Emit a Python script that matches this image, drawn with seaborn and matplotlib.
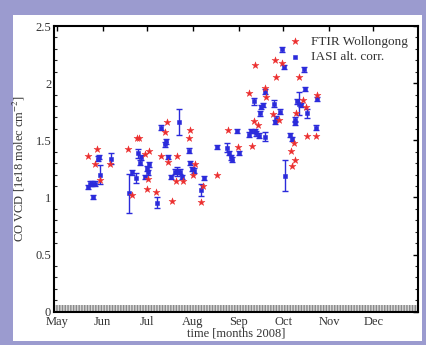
import numpy as np
import pandas as pd
import matplotlib
matplotlib.use("Agg")
import matplotlib.pyplot as plt
from matplotlib.patches import Rectangle
from matplotlib.ticker import MultipleLocator
import seaborn as sns

# ---- data (day of year 2008, CO VCD in 1e18 molec cm^-2) ----
ftir_doy = [143.3, 149.4, 147.4, 151.2, 158.0, 170.0, 172.6, 175.9, 177.5, 181.3,
            182.7, 184.2, 183.8, 189.2, 192.3, 195.0, 196.6, 197.3, 199.5, 202.9,
            202.4, 207.2, 212.3, 211.4, 215.3, 214.0, 219.3, 221.1, 230.3, 237.5,
            244.2, 251.9, 254.1, 256.2, 255.3, 258.2, 262.4, 263.6, 269.4, 270.3,
            268.0, 272.1, 274.4, 280.0, 281.1, 282.7, 282.0, 283.8, 286.0, 288.7,
            290.5, 291.0, 298.0, 297.3]
ftir_vcd = [1.365, 1.42, 1.29, 1.15, 1.29, 1.42, 1.02, 1.52, 1.52, 1.38,
            1.07, 1.41, 1.16, 1.05, 1.36, 1.57, 1.66, 1.31, 0.97, 1.365,
            1.14, 1.14, 1.59, 1.52, 1.29, 1.20, 0.96, 1.10, 1.20, 1.59,
            1.44, 1.91, 1.45, 2.16, 1.67, 1.63, 1.96, 1.88, 2.20, 2.05,
            1.73, 1.68, 2.18, 1.41, 1.275, 1.33, 1.48, 1.74, 2.05, 1.85,
            1.79, 1.54, 1.90, 1.54]

iasi_doy = [143.3, 144.5, 146.0, 146.7, 147.8, 149.6, 150.5, 151.2, 158.6, 170.5,
            172.6, 175.3, 176.6, 178.2, 178.9, 181.6, 183.0, 184.2, 183.3, 189.4,
            192.3, 195.3, 196.0, 197.3, 199.1, 201.6, 202.9, 204.5, 205.1, 206.9,
            211.2, 211.9, 213.5, 215.0, 219.1, 221.3, 230.3, 237.3, 238.4, 239.5,
            240.4, 244.0, 244.9, 251.9, 253.5, 255.0, 256.2, 256.8, 258.4, 259.1,
            260.2, 261.3, 262.4, 262.9, 268.5, 269.2, 270.3, 273.2, 274.4, 275.5,
            276.0, 279.8, 280.9, 282.7, 283.3, 284.2, 286.0, 287.2, 288.9, 290.1,
            291.0, 297.3, 298.0]
iasi_vcd = [1.09, 1.12, 1.12, 1.005, 1.12, 1.34, 1.355, 1.20, 1.34, 1.035,
            1.22, 1.17, 1.385, 1.305, 1.35, 1.18, 1.255, 1.29, 1.22, 0.955,
            1.61, 1.465, 1.49, 1.355, 1.18, 1.225, 1.23, 1.66, 1.225, 1.18,
            1.41, 1.30, 1.25, 1.235, 1.065, 1.17, 1.44, 1.435, 1.39, 1.35,
            1.33, 1.58, 1.39, 1.55, 1.58, 1.84, 1.58, 1.56, 1.54, 1.735,
            1.79, 1.81, 1.53, 1.925, 1.82, 1.66, 1.69, 1.75, 2.295, 2.14,
            1.19, 1.545, 1.51, 1.65, 1.68, 1.84, 1.82, 1.81, 2.12, 1.95,
            1.735, 1.61, 1.86]
iasi_err = [0.02, 0.02, 0.02, 0.02, 0.02, 0.02, 0.02, 0.08, 0.05, 0.17,
            0.02, 0.04, 0.04, 0.02, 0.02, 0.02, 0.02, 0.02, 0.02, 0.05,
            0.02, 0.02, 0.02, 0.02, 0.02, 0.02, 0.04, 0.11, 0.02, 0.02,
            0.02, 0.02, 0.02, 0.02, 0.05, 0.02, 0.02, 0.04, 0.02, 0.02,
            0.02, 0.02, 0.02, 0.02, 0.02, 0.03, 0.02, 0.02, 0.02, 0.02,
            0.02, 0.02, 0.04, 0.02, 0.03, 0.02, 0.02, 0.02, 0.02, 0.02,
            0.135, 0.02, 0.02, 0.02, 0.02, 0.02, 0.10, 0.02, 0.02, 0.02,
            0.04, 0.02, 0.02]

month_labels = ["May", "Jun", "Jul", "Aug", "Sep", "Oct", "Nov", "Dec"]
y_ticks = [0, 0.5, 1, 1.5, 2, 2.5]
y_tick_labels = ["0", "0.5", "1", "1.5", "2", "2.5"]
legend_labels = ["FTIR Wollongong", "IASI alt. corr."]


def doy_to_date(d):
    return pd.Timestamp("2008-01-01") + pd.to_timedelta(np.asarray(d) - 1, unit="D")


ftir = pd.DataFrame({"date": doy_to_date(ftir_doy), "vcd": ftir_vcd})
iasi = pd.DataFrame({"date": doy_to_date(iasi_doy), "vcd": iasi_vcd, "err": iasi_err})

sns.set_style("white")
plt.rcParams["font.family"] = ["Liberation Serif", "DejaVu Serif"]
plt.rcParams["mathtext.fontset"] = "stix"

fig = plt.figure(figsize=(4.27, 3.45), dpi=100)
fig.patch.set_facecolor("#9b9bcf")
fig.add_artist(Rectangle((13 / 427, 4 / 345), 409 / 427, 326 / 345,
                         transform=fig.transFigure, facecolor="white",
                         edgecolor="none", zorder=-10))
ax = fig.add_axes([54 / 427, 33.3 / 345, 363.7 / 427, 285.7 / 345])
ax.set_zorder(5)
ax.set_facecolor("white")

# grey band at the bottom
ax.axhspan(0, 0.055, facecolor="#d8d8d8", edgecolor="#8a8a8a",
           hatch="||||||", linewidth=0, zorder=1)

red = "#ec2f2f"
blue = "#2b2bdb"

ax.errorbar(iasi["date"], iasi["vcd"], yerr=iasi["err"], fmt="none",
            ecolor=blue, elinewidth=1.0, capsize=2.0, capthick=1.0, zorder=3)
sns.scatterplot(data=iasi, x="date", y="vcd", ax=ax, marker="s", s=9,
                color=blue, edgecolor=blue, linewidth=0.4, zorder=4,
                label=legend_labels[1])
sns.scatterplot(data=ftir, x="date", y="vcd", ax=ax, marker="*", s=28,
                color=red, edgecolor=red, linewidth=0.3, zorder=5,
                label=legend_labels[0])

ax.set_xlim(pd.Timestamp("2008-04-29"), pd.Timestamp("2008-12-31"))
ax.set_ylim(0, 2.5)

month_ticks = pd.date_range("2008-05-01", periods=8, freq="MS")
ax.set_xticks(month_ticks)
ax.set_xticklabels(month_labels)
ax.set_yticks(y_ticks)
ax.set_yticklabels(y_tick_labels)
ax.yaxis.set_minor_locator(MultipleLocator(0.1))

ax.tick_params(axis="both", which="major", direction="in", length=3.5, width=1.0,
               top=True, right=True, labelsize=9, pad=2, colors="black")
ax.tick_params(axis="y", which="minor", direction="in", length=2, width=0.8,
               left=True, right=True)
ax.tick_params(axis="x", pad=3)
for lab in ax.get_xticklabels() + ax.get_yticklabels():
    lab.set_color("#333333")

for s in ax.spines.values():
    s.set_visible(True)
    s.set_color("black")
    s.set_linewidth(1.5)

ax.set_xlabel("time [months 2008]", fontsize=9, labelpad=0, color="#333333")
ax.set_ylabel(r"CO VCD [1e18 molec cm$^{-2}$]", fontsize=9, labelpad=6, color="#333333")

h, l = ax.get_legend_handles_labels()
order = [l.index(legend_labels[0]), l.index(legend_labels[1])]
leg = ax.legend([h[i] for i in order], [l[i] for i in order], loc="upper right",
                frameon=False, fontsize=9.5, handletextpad=0.6, handlelength=1.2,
                borderaxespad=0.2, labelspacing=0.25, bbox_to_anchor=(0.995, 0.995))
for t in leg.get_texts():
    t.set_color("#333333")

fig.savefig("out.png", dpi=100, facecolor=fig.get_facecolor())
